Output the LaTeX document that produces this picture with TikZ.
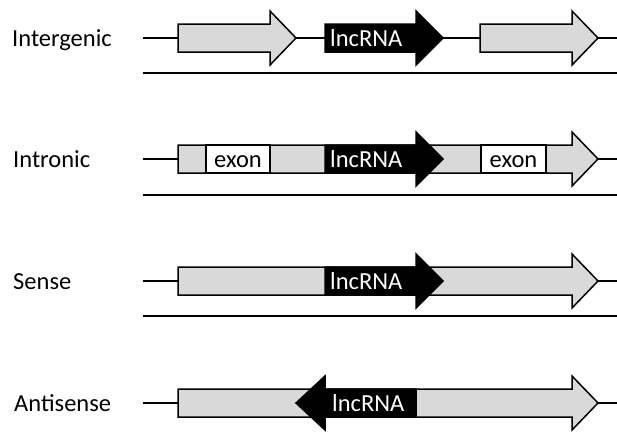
\documentclass[tikz,border=0pt]{standalone}
\usepackage{fontspec}
\setmainfont{Carlito}
\definecolor{genegray}{RGB}{217,217,217}
\newcommand\rarrowshape[5]{%
  \path[#1] (#2,#5-14) -- (#3,#5-14) -- (#3,#5-27) -- (#4,#5) -- (#3,#5+27) -- (#3,#5+14) -- (#2,#5+14) -- cycle;}
\newcommand\larrowshape[5]{%
  \path[#1] (#4,#5-14) -- (#3,#5-14) -- (#3,#5-27) -- (#2,#5) -- (#3,#5+27) -- (#3,#5+14) -- (#4,#5+14) -- cycle;}
\tikzset{
  dna/.style={line width=2pt, black},
  gene/.style={draw=black, line width=1.5pt, fill=genegray, line join=miter},
  lnc/.style={draw=black, line width=1.5pt, fill=black, line join=miter},
  exonbox/.style={draw=black, line width=1.5pt, fill=white},
  bigfont/.style={font=\fontsize{24.5}{29}\selectfont},
  lbl/.style={bigfont, anchor=base west, inner sep=0pt},
  lnctext/.style={bigfont, anchor=base west, inner sep=0pt, text=white},
  exontext/.style={bigfont, anchor=base, inner sep=0pt},
}
\begin{document}
\begin{tikzpicture}[x=1pt, y=-1pt]
\useasboundingbox[fill=white] (0,0) rectangle (617,432);

% Row 1: Intergenic (y = 38)
\node[lbl] (lblinter) at (12,46) {Intergenic};
\coordinate (l1a) at (143,38); \coordinate (l1b) at (617,38);
\coordinate (u1a) at (143,72.5); \coordinate (u1b) at (617,72.5);
\draw[dna] (l1a) -- (l1b);
\draw[dna] (u1a) -- (u1b);
\rarrowshape{gene}{178}{270}{296}{38}
\rarrowshape{lnc}{325}{416}{443}{38}
\rarrowshape{gene}{480}{572}{598}{38}
\node[lnctext] (lnc1) at (330,46.5) {lncRNA};

% Row 2: Intronic (y = 159)
\node[lbl] (lblintron) at (13,167) {Intronic};
\coordinate (l2a) at (143,159); \coordinate (l2b) at (617,159);
\coordinate (u2a) at (143,195); \coordinate (u2b) at (617,195);
\draw[dna] (l2a) -- (l2b);
\draw[dna] (u2a) -- (u2b);
\rarrowshape{gene}{178}{572}{598}{159}
\draw[exonbox] (206,145) rectangle (270,173);
\draw[exonbox] (481,145) rectangle (546,173);
\node[exontext] (exon1) at (238,167.5) {exon};
\node[exontext] (exon2) at (513.5,167.5) {exon};
\rarrowshape{lnc}{325}{416}{443}{159}
\node[lnctext] (lnc2) at (330,167.5) {lncRNA};

% Row 3: Sense (y = 281)
\node[lbl] (lblsense) at (13,289.5) {Sense};
\coordinate (l3a) at (143,281); \coordinate (l3b) at (617,281);
\coordinate (u3a) at (143,316); \coordinate (u3b) at (617,316);
\draw[dna] (l3a) -- (l3b);
\draw[dna] (u3a) -- (u3b);
\rarrowshape{gene}{178}{572}{598}{281}
\rarrowshape{lnc}{325}{416}{443}{281}
\node[lnctext] (lnc3) at (330,289.5) {lncRNA};

% Row 4: Antisense (y = 403)
\node[lbl] (lblanti) at (14,411) {Antisense};
\coordinate (l4a) at (143,403); \coordinate (l4b) at (617,403);
\draw[dna] (l4a) -- (l4b);
\rarrowshape{gene}{178}{572}{598}{403}
\larrowshape{lnc}{296}{325}{416}{403}
\node[lnctext] (lnc4) at (332,411.5) {lncRNA};
\end{tikzpicture}
\end{document}
